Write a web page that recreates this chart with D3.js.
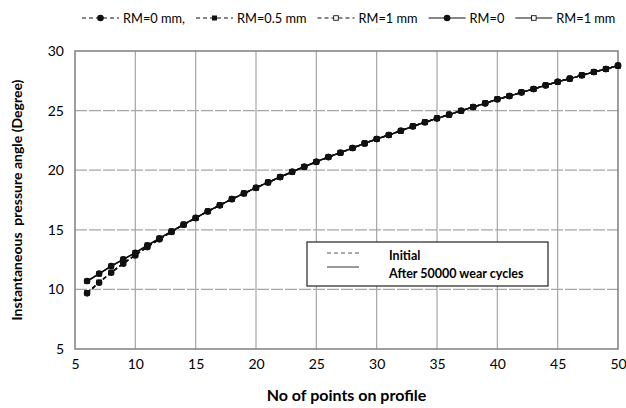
<!DOCTYPE html>
<html>
<head>
<meta charset="utf-8">
<script src="https://cdn.jsdelivr.net/npm/d3@7"></script>
<style>
  body { margin: 0; background: #fff; }
  text { font-family: Lato, "Open Sans", sans-serif; fill: #000; }
</style>
</head>
<body>
<div id="chart"></div>
<script>

// Data

var points = [6, 7, 8, 9, 10, 11, 12, 13, 14, 15, 16, 17, 18, 19, 20, 21, 22, 23, 24, 25, 26, 27, 28,
              29, 30, 31, 32, 33, 34, 35, 36, 37, 38, 39, 40, 41, 42, 43, 44, 45, 46, 47, 48, 49, 50];

var initialRM0 = [9.67, 10.56, 11.40, 12.16, 12.85, 13.55, 14.20, 14.82, 15.42, 15.98, 16.54, 17.05, 17.57, 18.05, 18.52,
                  18.97, 19.42, 19.86, 20.28, 20.70, 21.10, 21.47, 21.86, 22.25, 22.62, 22.95, 23.31, 23.68, 24.02, 24.35,
                  24.66, 24.99, 25.30, 25.61, 25.95, 26.22, 26.53, 26.81, 27.12, 27.42, 27.68, 27.96, 28.24, 28.49, 28.77];

var initialRM05 = [9.70, 10.58, 11.42, 12.18, 12.88, 13.57, 14.22, 14.83, 15.43, 15.99, 16.54, 17.05, 17.57, 18.05, 18.52,
                   18.97, 19.42, 19.86, 20.28, 20.70, 21.10, 21.47, 21.86, 22.25, 22.62, 22.95, 23.31, 23.68, 24.02, 24.35,
                   24.66, 24.99, 25.30, 25.61, 25.95, 26.22, 26.53, 26.81, 27.12, 27.42, 27.68, 27.96, 28.24, 28.49, 28.77];

var initialRM1 = [9.72, 10.60, 11.43, 12.19, 12.89, 13.58, 14.23, 14.84, 15.43, 15.99, 16.55, 17.06, 17.57, 18.05, 18.53,
                  18.97, 19.42, 19.86, 20.29, 20.70, 21.10, 21.47, 21.86, 22.25, 22.62, 22.95, 23.31, 23.68, 24.02, 24.35,
                  24.66, 24.99, 25.30, 25.61, 25.95, 26.22, 26.53, 26.81, 27.12, 27.42, 27.68, 27.96, 28.24, 28.49, 28.77];

var wearRM0 = [10.70, 11.32, 11.96, 12.52, 13.08, 13.70, 14.29, 14.87, 15.45, 16.00, 16.55, 17.06, 17.58, 18.06, 18.53,
               18.98, 19.43, 19.87, 20.29, 20.71, 21.11, 21.47, 21.86, 22.25, 22.62, 22.95, 23.31, 23.68, 24.02, 24.35,
               24.66, 24.99, 25.30, 25.61, 25.95, 26.22, 26.53, 26.81, 27.12, 27.42, 27.68, 27.96, 28.24, 28.49, 28.77];

var wearRM1 = [10.68, 11.31, 11.95, 12.51, 13.07, 13.69, 14.28, 14.87, 15.45, 16.00, 16.55, 17.06, 17.58, 18.06, 18.53,
               18.98, 19.43, 19.87, 20.29, 20.71, 21.11, 21.47, 21.86, 22.25, 22.62, 22.95, 23.31, 23.68, 24.02, 24.35,
               24.66, 24.99, 25.30, 25.61, 25.95, 26.22, 26.53, 26.81, 27.12, 27.42, 27.68, 27.96, 28.24, 28.49, 28.77];

var xTicks = [5, 10, 15, 20, 25, 30, 35, 40, 45, 50];
var yTicks = [5, 10, 15, 20, 25, 30];

// drawing order : open squares first, filled markers on top
var series = [
	{"name" : "RM=1 mm", "values" : wearRM1, "dashed" : false, "marker" : "openSquare"},
	{"name" : "RM=1 mm", "values" : initialRM1, "dashed" : true, "marker" : "openSquare"},
	{"name" : "RM=0.5 mm", "values" : initialRM05, "dashed" : true, "marker" : "square"},
	{"name" : "RM=0 mm,", "values" : initialRM0, "dashed" : true, "marker" : "circle"},
	{"name" : "RM=0", "values" : wearRM0, "dashed" : false, "marker" : "circle"}
];

var legendOrder = [3, 2, 1, 4, 0];


// Svg

var width = 626, height = 408;
var margin = {"top" : 51, "right" : 8, "bottom" : 59, "left" : 75};

var svg = d3.select("#chart")
	.append("svg")
	.attr("width", width)
	.attr("height", height);

var x = d3.scaleLinear().domain([5, 50]).range([margin.left, width - margin.right]);
var y = d3.scaleLinear().domain([5, 30]).range([height - margin.bottom, margin.top]);


// Grid

var grid = svg.append("g");

grid.selectAll(".vgrid")
	.data(xTicks.slice(1, -1))
	.enter()
		.append("line")
		.attr("x1", function(d){return x(d);})
		.attr("x2", function(d){return x(d);})
		.attr("y1", y(5))
		.attr("y2", y(30))
		.attr("stroke", "#a6a6a6")
		.attr("stroke-width", 1.2);

grid.selectAll(".hgrid")
	.data(yTicks.slice(1, -1))
	.enter()
		.append("line")
		.attr("x1", x(5))
		.attr("x2", x(50))
		.attr("y1", function(d){return y(d);})
		.attr("y2", function(d){return y(d);})
		.attr("stroke", "#a6a6a6")
		.attr("stroke-width", 1.2)
		.attr("stroke-dasharray", "12,2");


// Axes

var xAxis = svg.append("g")
	.attr("transform", "translate(0," + y(5) + ")")
	.call(d3.axisBottom(x).tickValues(xTicks).tickSize(0).tickPadding(10));

var yAxis = svg.append("g")
	.attr("transform", "translate(" + x(5) + ",0)")
	.call(d3.axisLeft(y).tickValues(yTicks).tickSize(0).tickPadding(11));

xAxis.select(".domain").remove();
yAxis.select(".domain").remove();
xAxis.selectAll("text").style("font-size", "14px").style("font-family", "Lato, sans-serif");
yAxis.selectAll("text").style("font-size", "14px").style("font-family", "Lato, sans-serif");

svg.append("rect")
	.attr("x", x(5))
	.attr("y", y(30))
	.attr("width", x(50) - x(5))
	.attr("height", y(5) - y(30))
	.attr("fill", "none")
	.attr("stroke", "#7f7f7f")
	.attr("stroke-width", 1.5);

svg.append("text")
	.attr("x", (x(5) + x(50)) / 2)
	.attr("y", 401)
	.attr("text-anchor", "middle")
	.style("font-size", "16px")
	.style("font-weight", "bold")
	.text("No of points on profile");

svg.append("text")
	.attr("transform", "translate(22," + ((y(5) + y(30)) / 2) + ") rotate(-90)")
	.attr("text-anchor", "middle")
	.style("font-size", "14px")
	.style("font-weight", "bold")
	.style("white-space", "pre")
	.text("Instantaneous  pressure angle (Degree)");


// Lines and markers

var line = d3.line()
	.x(function(d, i){return x(points[i]);})
	.y(function(d){return y(d);});

function drawMarker(g, type, cx, cy)
{
	if(type == "circle")
	{
		g.append("circle").attr("cx", cx).attr("cy", cy).attr("r", 3.3).attr("fill", "#111");
	}
	else if(type == "square")
	{
		g.append("rect").attr("x", cx - 2.5).attr("y", cy - 2.5).attr("width", 5).attr("height", 5).attr("fill", "#111");
	}
	else
	{
		g.append("rect").attr("x", cx - 2.3).attr("y", cy - 2.3).attr("width", 4.6).attr("height", 4.6)
			.attr("fill", "#fff").attr("stroke", "#111").attr("stroke-width", 0.9);
	}
}

var lineGroup = svg.append("g");

series.forEach(function(s)
{
	lineGroup.append("path")
		.datum(s.values)
		.attr("d", line)
		.attr("fill", "none")
		.attr("stroke", "#111")
		.attr("stroke-width", 1.4)
		.attr("stroke-dasharray", s.dashed ? "4,3" : null);

	var mg = lineGroup.append("g");
	s.values.forEach(function(v, i)
	{
		drawMarker(mg, s.marker, x(points[i]), y(v));
	});
});


// Top legend

var topLegend = svg.append("g");
var cursor = 82;
var legY = 18;

legendOrder.forEach(function(k)
{
	var s = series[k];
	var item = topLegend.append("g");

	item.append("line")
		.attr("x1", cursor)
		.attr("x2", cursor + 37)
		.attr("y1", legY)
		.attr("y2", legY)
		.attr("stroke", "#111")
		.attr("stroke-width", 1.2)
		.attr("stroke-dasharray", s.dashed ? "4,3" : null);

	drawMarker(item, s.marker, cursor + 18.5, legY);

	var t = item.append("text")
		.attr("x", cursor + 41)
		.attr("y", legY + 4.5)
		.style("font-size", "12.8px")
		.text(s.name);

	cursor = cursor + 41 + t.node().getComputedTextLength() + 11;
});


// Legend box inside the plot

var box = svg.append("g");

box.append("rect")
	.attr("x", 307)
	.attr("y", 242)
	.attr("width", 241)
	.attr("height", 44)
	.attr("fill", "#fff")
	.attr("stroke", "#222")
	.attr("stroke-width", 1.2);

box.append("line")
	.attr("x1", 327).attr("x2", 359).attr("y1", 253).attr("y2", 253)
	.attr("stroke", "#555").attr("stroke-width", 1).attr("stroke-dasharray", "4,3");

box.append("line")
	.attr("x1", 327).attr("x2", 359).attr("y1", 267).attr("y2", 267)
	.attr("stroke", "#555").attr("stroke-width", 1.2);

box.append("text")
	.attr("x", 389).attr("y", 260)
	.style("font-size", "12.5px").style("font-weight", "bold")
	.text("Initial");

box.append("text")
	.attr("x", 389).attr("y", 277.5)
	.style("font-size", "12.5px").style("font-weight", "bold")
	.text("After 50000 wear cycles");

</script>
</body>
</html>
